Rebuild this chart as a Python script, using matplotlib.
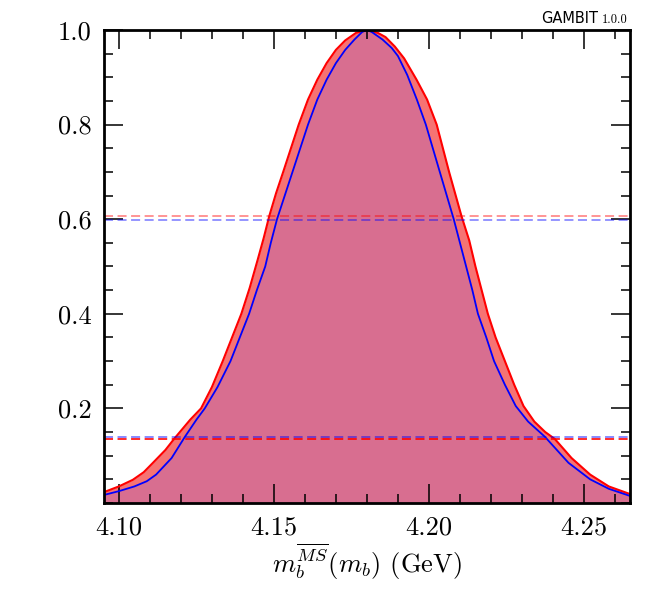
import numpy as np
import matplotlib.pyplot as plt
from matplotlib.ticker import FixedLocator, MultipleLocator, FormatStrFormatter

plt.rcParams['mathtext.fontset'] = 'cm'
plt.rcParams['font.family'] = 'serif'
plt.rcParams['font.serif'] = ['cmr10', 'DejaVu Serif']
plt.rcParams['axes.formatter.use_mathtext'] = True

# profile likelihood (red) and posterior (blue)
red_x = [4.0952, 4.1000, 4.1045, 4.1080, 4.1110, 4.1150, 4.1180, 4.1230, 4.1265,
         4.1300, 4.1335, 4.1365, 4.1395, 4.1422, 4.1448, 4.1467, 4.1485, 4.1507,
         4.1530, 4.1555, 4.1580, 4.1610, 4.1640, 4.1670, 4.1700, 4.1730, 4.1765,
         4.1800, 4.1835, 4.1860, 4.1890, 4.1920, 4.1960, 4.1994, 4.2025, 4.2065,
         4.2105, 4.2130, 4.2150, 4.2170, 4.2190, 4.2215, 4.2245, 4.2275, 4.2305,
         4.2340, 4.2375, 4.2406, 4.2460, 4.2520, 4.2580, 4.2648]
red_y = [0.023, 0.035, 0.049, 0.065, 0.085, 0.112, 0.137, 0.176, 0.200,
         0.245, 0.300, 0.350, 0.400, 0.455, 0.515, 0.560, 0.6065, 0.655,
         0.700, 0.750, 0.800, 0.853, 0.895, 0.930, 0.958, 0.978, 0.994,
         1.000, 0.994, 0.985, 0.965, 0.940, 0.895, 0.853, 0.800, 0.700,
         0.6065, 0.555, 0.500, 0.450, 0.400, 0.350, 0.300, 0.250, 0.205,
         0.172, 0.150, 0.1353, 0.095, 0.060, 0.035, 0.019]

blue_x = [4.0952, 4.1000, 4.1050, 4.1090, 4.1120, 4.1170, 4.1213, 4.1250, 4.1277,
          4.1318, 4.1360, 4.1390, 4.1420, 4.1445, 4.1472, 4.1490, 4.1510, 4.1535,
          4.1560, 4.1585, 4.1610, 4.1640, 4.1670, 4.1700, 4.1730, 4.1760, 4.1785,
          4.1800, 4.1815, 4.1850, 4.1880, 4.1900, 4.1930, 4.1961, 4.1990, 4.2035,
          4.2080, 4.2100, 4.2120, 4.2140, 4.2158, 4.2185, 4.2210, 4.2245, 4.2280,
          4.2320, 4.2374, 4.2450, 4.2520, 4.2580, 4.2648]
blue_y = [0.017, 0.025, 0.035, 0.046, 0.060, 0.095, 0.140, 0.176, 0.200,
          0.245, 0.300, 0.350, 0.400, 0.450, 0.500, 0.550, 0.600, 0.650,
          0.700, 0.750, 0.800, 0.853, 0.895, 0.930, 0.958, 0.980, 0.996,
          1.000, 0.996, 0.980, 0.962, 0.945, 0.905, 0.853, 0.800, 0.700,
          0.600, 0.550, 0.500, 0.450, 0.400, 0.350, 0.300, 0.250, 0.205,
          0.172, 0.140, 0.085, 0.050, 0.030, 0.015]

red_levels = [0.6065, 0.1353]
blue_levels = [0.598, 0.140]

x_ticks = [4.10, 4.15, 4.20, 4.25]
y_ticks = [0.2, 0.4, 0.6, 0.8, 1.0]

fig = plt.figure(figsize=(6.5, 6), dpi=100)
ax = fig.add_axes([0.16, 0.1617, 0.809, 0.7883])

ax.fill_between(red_x, 0, red_y, color='#f67373', lw=0)
ax.fill_between(blue_x, 0, blue_y, color='#d86e90', lw=0)
ax.plot(red_x, red_y, color='red', lw=1.5)
ax.plot(blue_x, blue_y, color='blue', lw=1.3)

ax.axhline(red_levels[0], color='red', ls=(0, (5, 2.5)), lw=1.3, alpha=0.45)
ax.axhline(blue_levels[0], color='blue', ls=(0, (5, 2.5)), lw=1.3, alpha=0.45)
ax.axhline(blue_levels[1], color='blue', ls=(0, (5, 2.5)), lw=1.3, alpha=0.5)
ax.axhline(red_levels[1], color='red', ls=(0, (5, 2.5)), lw=1.3, alpha=0.9)

ax.set_xlim(4.0952, 4.2648)
ax.set_ylim(0, 1.0)

ax.xaxis.set_major_locator(FixedLocator(x_ticks))
ax.xaxis.set_minor_locator(MultipleLocator(0.01))
ax.xaxis.set_major_formatter(FormatStrFormatter('%.2f'))
ax.yaxis.set_major_locator(FixedLocator(y_ticks))
ax.yaxis.set_minor_locator(MultipleLocator(0.05))
ax.yaxis.set_major_formatter(FormatStrFormatter('%.1f'))

ax.tick_params(which='both', direction='in', top=True, right=True, labelsize=19)
ax.tick_params(which='major', length=13.5, width=1.1, pad=9)
ax.tick_params(which='minor', length=6.5, width=1.1)
for s in ax.spines.values():
    s.set_linewidth(2)

ax.set_xlabel(r'$m_b^{\overline{MS}}(m_b)$ (GeV)', fontsize=19, labelpad=2)

fig.text(0.920, 0.962, 'GAMBIT', family='DejaVu Sans', fontsize=10.5, ha='right', va='baseline')
fig.text(0.966, 0.962, '1.0.0', fontsize=9, ha='right', va='baseline')

fig.savefig('out.png', dpi=100)
